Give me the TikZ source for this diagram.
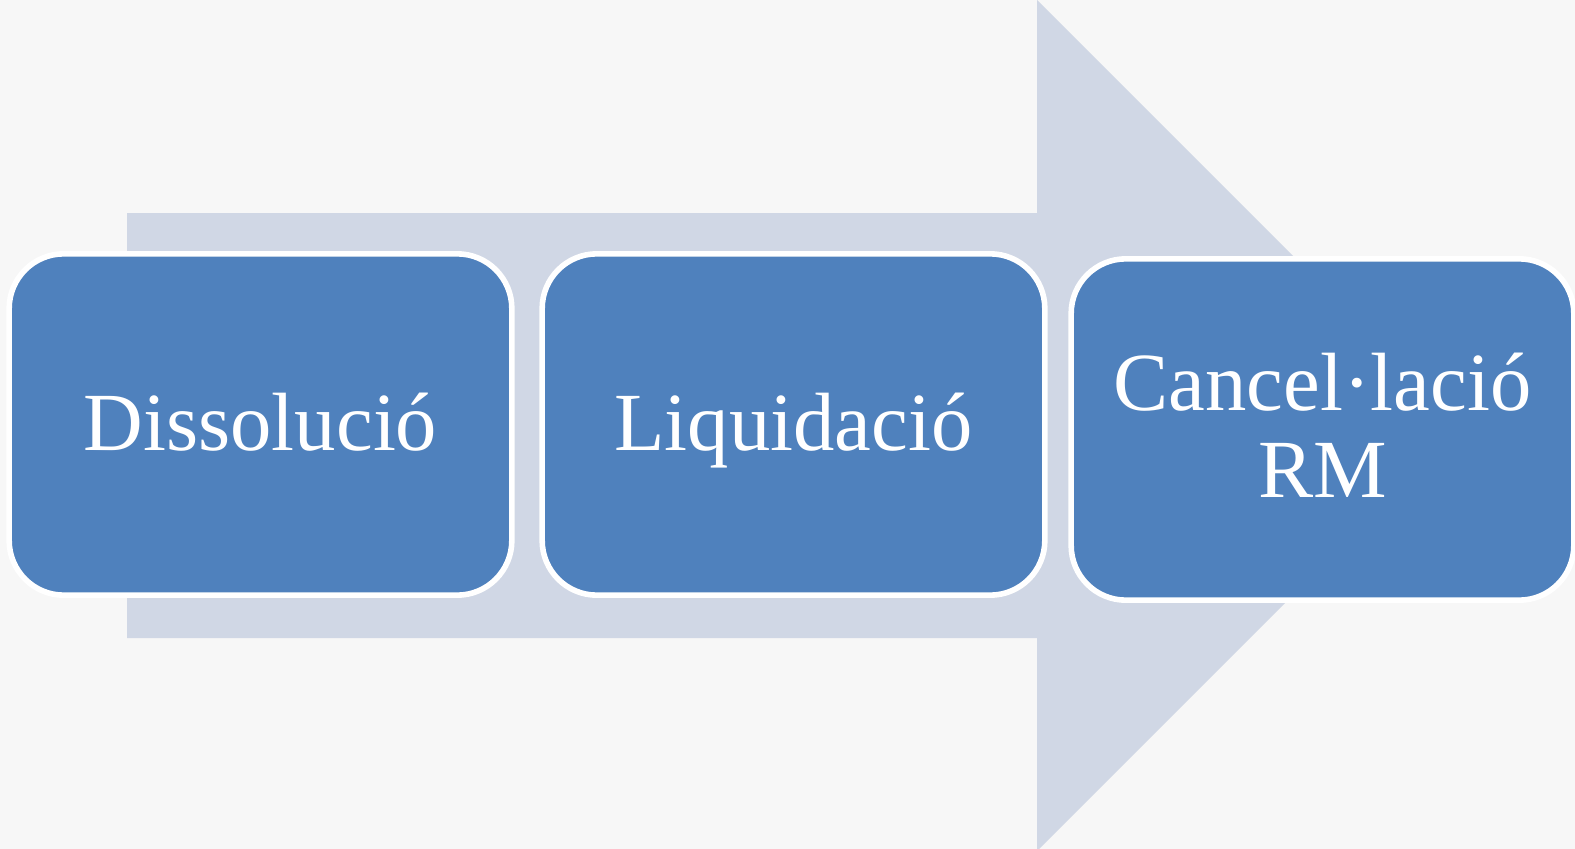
\documentclass[tikz,border=0pt]{standalone}
\usepackage{fontspec}
\setmainfont{Liberation Serif}
\usetikzlibrary{calc}
\definecolor{bgc}{HTML}{F7F7F7}
\definecolor{arrowc}{HTML}{D0D7E5}
\definecolor{boxc}{HTML}{4F81BD}
\tikzset{
  stepbox/.style={draw=white, line width=4.2pt, fill=boxc, rounded corners=41pt,
    minimum width=377pt, minimum height=256pt, inner sep=0pt, outer sep=0pt},
  lbl/.style={text=white, font=\fontsize{62}{65}\selectfont, align=center, inner sep=0pt, anchor=base}
}
\begin{document}
\begin{tikzpicture}[x=0.75pt, y=-0.75pt]
\useasboundingbox (0,0) rectangle (1575,849);
\fill[bgc] (0,0) rectangle (1575,849);
% big arrow
\fill[arrowc] (127,213) -- (1037,213) -- (1037,0) -- (1462.5,425.5) -- (1037,851) -- (1037,638) -- (127,638) -- cycle;
% boxes
\node[stepbox] (b1) at (260.5,424.5) {};
\node[stepbox] (b2) at (793.5,424.5) {};
\node[stepbox] (b3) at (1322.5,429.5) {};
% labels
\node[lbl] (t1) at ($(b1.center)+(0,25.5)$) {Dissolució};
\node[lbl] (t2) at ($(b2.center)+(0,25.5)$) {Liquidació};
\node[lbl] (t3) at ($(b3.center)+(0,67.5)$) {Cancel·lació\\RM};
\end{tikzpicture}
\end{document}
